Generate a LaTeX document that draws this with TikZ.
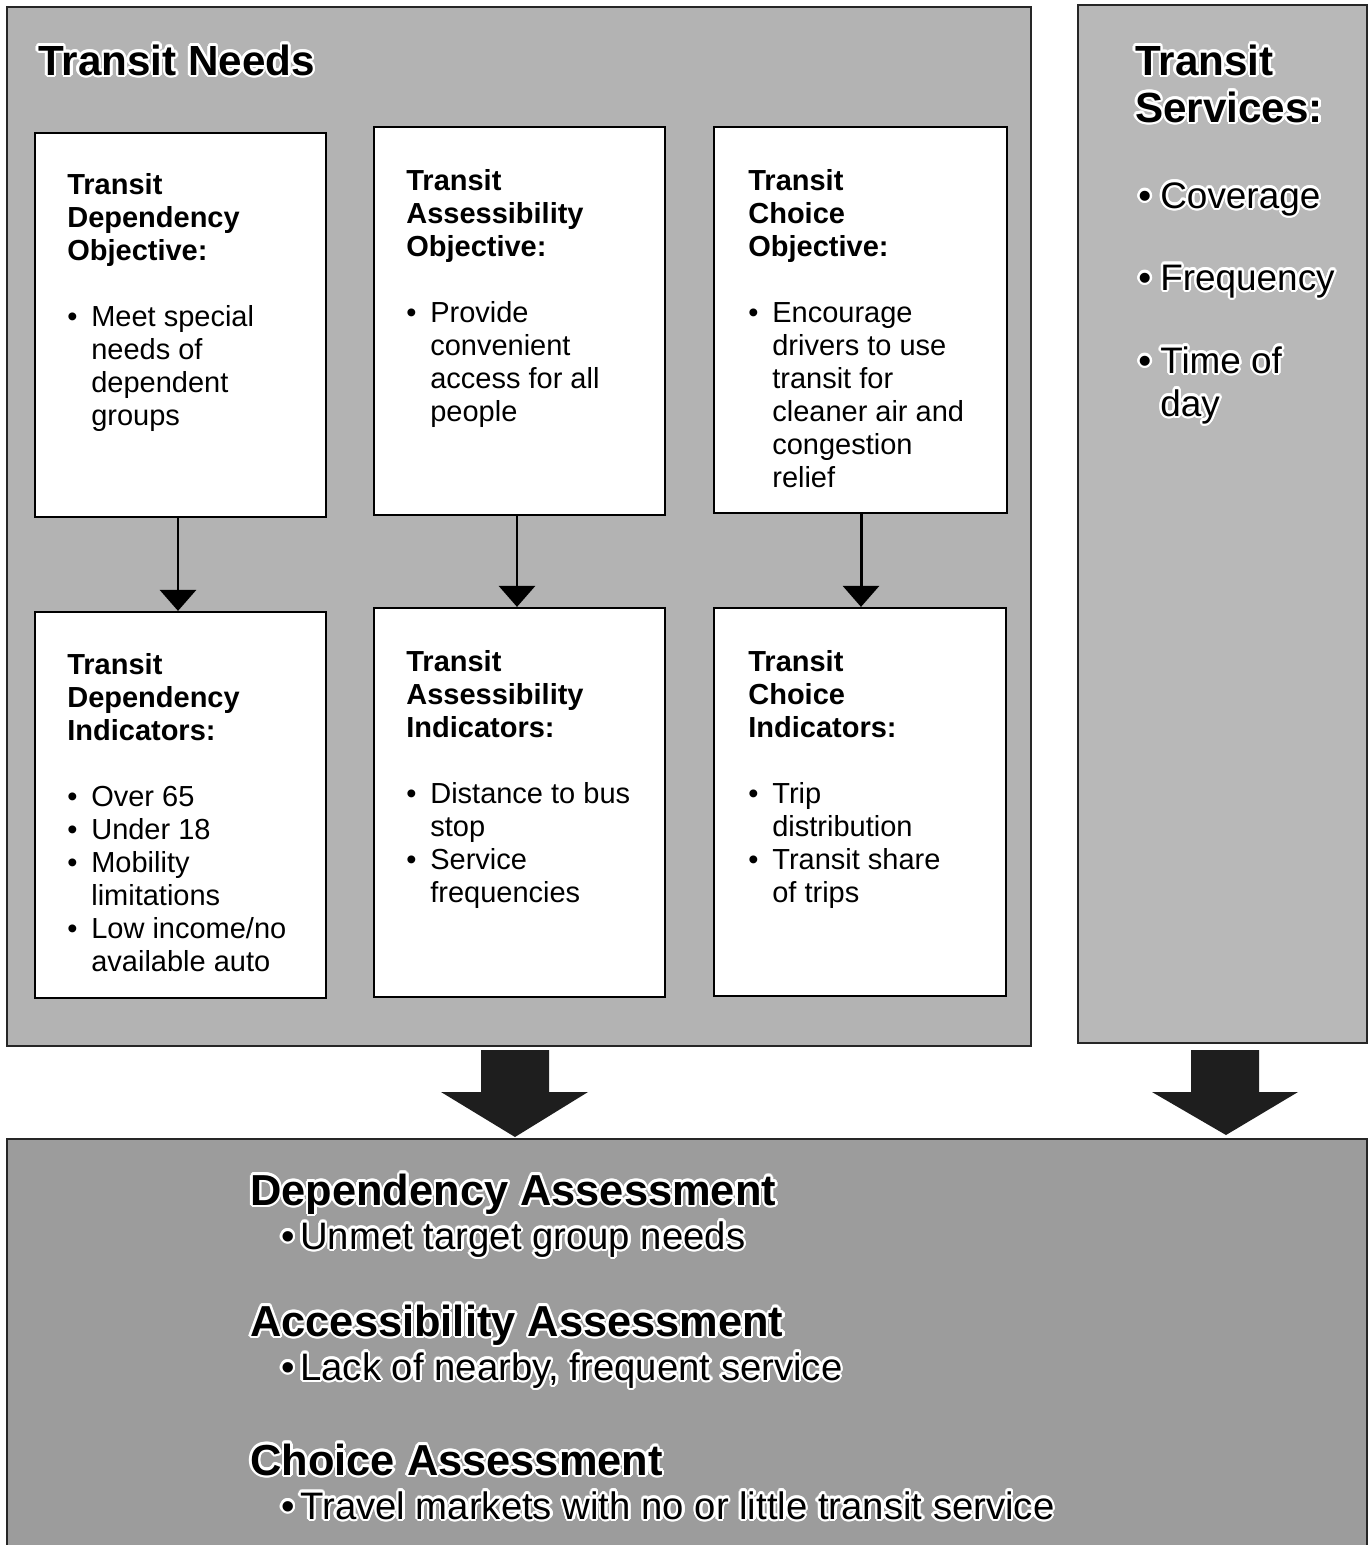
\documentclass[tikz,border=0pt]{standalone}
\usepackage{fontspec}
\setmainfont{Liberation Sans}
\usepackage[copies]{contour}
\contourlength{1.4pt}
\usetikzlibrary{arrows.meta}
\newcommand{\bu}{\makebox[0.48cm][l]{\textbullet}}
\newcommand{\ind}{\hspace*{0.48cm}}
\definecolor{panelgray}{HTML}{B3B3B3}
\definecolor{svcgray}{HTML}{B8B8B8}
\definecolor{botgray}{HTML}{9C9C9C}
\definecolor{arrowdark}{HTML}{1E1E1E}
\tikzset{
  panel/.style={draw=black!85, line width=1.2pt, inner sep=0pt},
  wbox/.style={draw=black, line width=1.3pt, fill=white, inner sep=0pt},
  btxt/.style={anchor=north west, inner sep=0pt, align=left, font=\fontsize{16.5}{18.8}\selectfont},
  flowarrow/.style={line width=1.7pt, -{Triangle[width=0.72cm,length=0.42cm]}},
  bigarrow/.style={fill=arrowdark},
  titletxt/.style={anchor=base west, inner sep=0pt, font=\fontsize{24}{28}\selectfont\bfseries},
  svcitem/.style={anchor=base west, inner sep=0pt, font=\fontsize{21}{26}\selectfont},
  glowhead/.style={anchor=base west, inner sep=0pt, font=\fontsize{24.7}{28}\selectfont\bfseries},
  glowitem/.style={anchor=base west, inner sep=0pt, font=\fontsize{21.8}{26}\selectfont},
}
\begin{document}
\begin{tikzpicture}[x=0.02cm,y=-0.02cm]
\useasboundingbox (0,0) rectangle (1369,1545);
\fill[white] (0,0) rectangle (1369,1545);

% panels
\node[panel, fill=panelgray, minimum width=20.48cm, minimum height=20.78cm] (needs) at (519,526.5) {};
\node[panel, fill=svcgray, minimum width=5.78cm, minimum height=20.76cm] (services) at (1222.5,524) {};
\node[panel, fill=botgray, minimum width=27.2cm, minimum height=8.2cm] (assess) at (687,1344) {};

% titles
\node[titletxt] (needst) at (38,75) {\contour{white}{Transit Needs}};
\node[titletxt] (svct1) at (1135,75) {\contour{white}{Transit}};
\node[titletxt] (svct2) at (1135,122) {\contour{white}{Services:}};
\node[svcitem] (svc1) at (1138,208) {\contour{white}{\makebox[0.44cm][l]{\textbullet}Coverage}};
\node[svcitem] (svc2) at (1138,290) {\contour{white}{\makebox[0.44cm][l]{\textbullet}Frequency}};
\node[svcitem] (svc3) at (1138,373) {\contour{white}{\makebox[0.44cm][l]{\textbullet}Time of}};
\node[svcitem] (svc4) at (1160,416) {\contour{white}{day}};

% white boxes
\node[wbox, minimum width=5.82cm, minimum height=7.68cm] (b1) at (180.5,325) {};
\node[wbox, minimum width=5.82cm, minimum height=7.76cm] (b2) at (519.5,321) {};
\node[wbox, minimum width=5.86cm, minimum height=7.72cm] (b3) at (860.5,320) {};
\node[wbox, minimum width=5.82cm, minimum height=7.72cm] (b4) at (180.5,805) {};
\node[wbox, minimum width=5.82cm, minimum height=7.78cm] (b5) at (519.5,802.5) {};
\node[wbox, minimum width=5.84cm, minimum height=7.76cm] (b6) at (860,802) {};

% box texts
\node[btxt] (t1) at (67,173) {\textbf{Transit}\\\textbf{Dependency}\\\textbf{Objective:}\\[0.66cm]
 \bu Meet special\\\ind needs of\\\ind dependent\\\ind groups};
\node[btxt] (t2) at (406,169) {\textbf{Transit}\\\textbf{Assessibility}\\\textbf{Objective:}\\[0.66cm]
 \bu Provide\\\ind convenient\\\ind access for all\\\ind people};
\node[btxt] (t3) at (748,169) {\textbf{Transit}\\\textbf{Choice}\\\textbf{Objective:}\\[0.66cm]
 \bu Encourage\\\ind drivers to use\\\ind transit for\\\ind cleaner air and\\\ind congestion\\\ind relief};
\node[btxt] (t4) at (67,653) {\textbf{Transit}\\\textbf{Dependency}\\\textbf{Indicators:}\\[0.66cm]
 \bu Over 65\\\bu Under 18\\\bu Mobility\\\ind limitations\\\bu Low income/no\\\ind available auto};
\node[btxt] (t5) at (406,650) {\textbf{Transit}\\\textbf{Assessibility}\\\textbf{Indicators:}\\[0.66cm]
 \bu Distance to bus\\\ind stop\\\bu Service\\\ind frequencies};
\node[btxt] (t6) at (748,650) {\textbf{Transit}\\\textbf{Choice}\\\textbf{Indicators:}\\[0.66cm]
 \bu Trip\\\ind distribution\\\bu Transit share\\\ind of trips};

% small arrows
\draw[flowarrow] (b1.south -| 178,0) -- (b4.north -| 178,0);
\draw[flowarrow] (b2.south -| 517,0) -- (b5.north -| 517,0);
\draw[flowarrow] (b3.south -| 861,0) -- (b6.north -| 861,0);

% big arrows
\coordinate (a1) at (515,1050);
\coordinate (a2) at (1225,1050);
\fill[bigarrow] (a1) ++(-34,0) -- ++(68,0) -- ++(0,42) -- ++(39,0) -- (515,1137) -- (441,1092) -- (481,1092) -- cycle;
\fill[bigarrow] (a2) ++(-34,0) -- ++(68,0) -- ++(0,42) -- ++(39,0) -- (1226,1135) -- (1152,1092) -- (1191,1092) -- cycle;

% assessment texts
\node[glowhead] (h1) at (250,1205) {\contour{white}{Dependency Assessment}};
\node[glowitem] (i1) at (281,1249) {\contour{white}{\makebox[0.38cm][l]{\textbullet}Unmet target group needs}};
\node[glowhead] (h2) at (250,1336) {\contour{white}{Accessibility Assessment}};
\node[glowitem] (i2) at (281,1380) {\contour{white}{\makebox[0.38cm][l]{\textbullet}Lack of nearby, frequent service}};
\node[glowhead] (h3) at (250,1475) {\contour{white}{Choice Assessment}};
\node[glowitem] (i3) at (281,1519) {\contour{white}{\makebox[0.38cm][l]{\textbullet}Travel markets with no or little transit service}};
\end{tikzpicture}
\end{document}
